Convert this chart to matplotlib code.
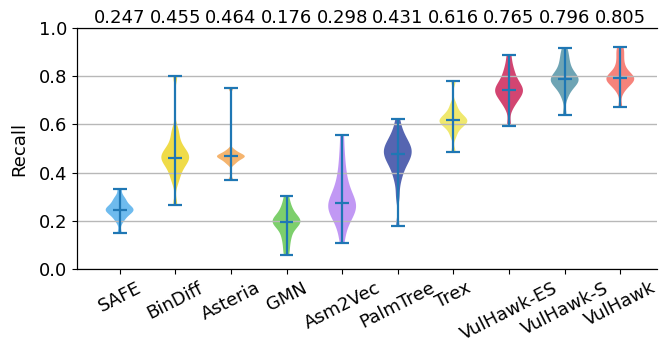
import numpy as np
import matplotlib
matplotlib.use("Agg")
import matplotlib.pyplot as plt

methods = ["SAFE", "BinDiff", "Asteria", "GMN", "Asm2Vec", "PalmTree",
           "Trex", "VulHawk-ES", "VulHawk-S", "VulHawk"]

# Per-function recall samples for each method
recall_safe = [0.150, 0.195, 0.21, 0.22, 0.23, 0.235, 0.24, 0.245, 0.247,
               0.25, 0.255, 0.26, 0.27, 0.28, 0.29, 0.30, 0.334]
recall_bindiff = [0.266, 0.36, 0.39, 0.41, 0.43, 0.44, 0.45, 0.46, 0.462,
                  0.47, 0.48, 0.49, 0.50, 0.52, 0.55, 0.58, 0.800]
recall_asteria = [0.371, 0.435, 0.445, 0.452, 0.458, 0.462, 0.466, 0.468,
                  0.47, 0.474, 0.478, 0.485, 0.495, 0.749]
recall_gmn = [0.058, 0.09, 0.12, 0.14, 0.16, 0.175, 0.185, 0.19, 0.196,
              0.20, 0.205, 0.21, 0.22, 0.235, 0.25, 0.27, 0.304]
recall_asm2vec = [0.110, 0.16, 0.19, 0.21, 0.225, 0.235, 0.245, 0.25,
                  0.26, 0.265, 0.276, 0.285, 0.295, 0.31, 0.325, 0.345,
                  0.37, 0.40, 0.44, 0.49, 0.558]
recall_palmtree = [0.178, 0.30, 0.36, 0.39, 0.41, 0.43, 0.44, 0.45, 0.46,
                   0.47, 0.475, 0.48, 0.49, 0.50, 0.505, 0.51, 0.52, 0.53,
                   0.545, 0.56, 0.58, 0.621]
recall_trex = [0.486, 0.55, 0.575, 0.59, 0.60, 0.605, 0.61, 0.617, 0.62,
               0.625, 0.635, 0.645, 0.66, 0.685, 0.778]
recall_vulhawk_es = [0.595, 0.67, 0.69, 0.705, 0.715, 0.725, 0.735, 0.74,
                     0.744, 0.75, 0.76, 0.77, 0.785, 0.80, 0.82, 0.845, 0.889]
recall_vulhawk_s = [0.641, 0.71, 0.735, 0.75, 0.76, 0.77, 0.775, 0.78,
                    0.785, 0.79, 0.795, 0.80, 0.81, 0.82, 0.835, 0.85,
                    0.87, 0.89, 0.916]
recall_vulhawk = [0.672, 0.735, 0.755, 0.765, 0.775, 0.78, 0.785, 0.79,
                  0.794, 0.80, 0.805, 0.815, 0.83, 0.85, 0.875, 0.90, 0.921]

samples = [recall_safe, recall_bindiff, recall_asteria, recall_gmn,
           recall_asm2vec, recall_palmtree, recall_trex, recall_vulhawk_es,
           recall_vulhawk_s, recall_vulhawk]

# Average recall printed along the top axis
mean_labels = ["0.247", "0.455", "0.464", "0.176", "0.298", "0.431",
               "0.616", "0.765", "0.796", "0.805"]

colors = ["#4aaaea", "#ecd21a", "#f3a24a", "#5cc447", "#b27ff2",
          "#2c3f9e", "#ebe34a", "#c8174e", "#4a8da2", "#f4645a"]

plt.rcParams["font.family"] = "DejaVu Sans"
plt.rcParams["font.size"] = 13


def robust_bw(kde):
    # Silverman's rule with the IQR guard, expressed as a factor of the std
    d = np.asarray(kde.dataset).ravel()
    sd = d.std(ddof=1)
    q75, q25 = np.percentile(d, [75, 25])
    h = 0.9 * min(sd, (q75 - q25) / 1.34) * len(d) ** (-0.2)
    return h / sd


fig = plt.figure(figsize=(6.59, 3.45), dpi=100)
ax = fig.add_axes([0.117, 0.22, 0.88, 0.699])

positions = np.arange(1, len(methods) + 1)
parts = ax.violinplot(samples, positions=positions, showmedians=True,
                      bw_method=robust_bw, points=200)
for body, c in zip(parts["bodies"], colors):
    body.set_facecolor(c)
    body.set_edgecolor("none")
    body.set_alpha(0.8)
for key in ("cmins", "cmaxes", "cbars", "cmedians"):
    parts[key].set_color("#1f77b4")
    parts[key].set_linewidth(1.6)

ax.set_xlim(0.236, 10.66)
ax.set_ylim(0.0, 1.0)
ax.set_yticks([0.0, 0.2, 0.4, 0.6, 0.8, 1.0])
ax.yaxis.grid(True, color="#b8b8b8", linewidth=1.0)
ax.set_xticks(positions)
ax.set_xticklabels(methods, rotation=27)
ax.set_ylabel("Recall", labelpad=8)
ax.spines["right"].set_visible(False)

top = ax.twiny()
top.set_xlim(ax.get_xlim())
top.set_xticks(positions)
top.set_xticklabels(mean_labels)
top.tick_params(axis="x", length=0, pad=1)
top.spines["right"].set_visible(False)

fig.savefig("out.png", dpi=100)
